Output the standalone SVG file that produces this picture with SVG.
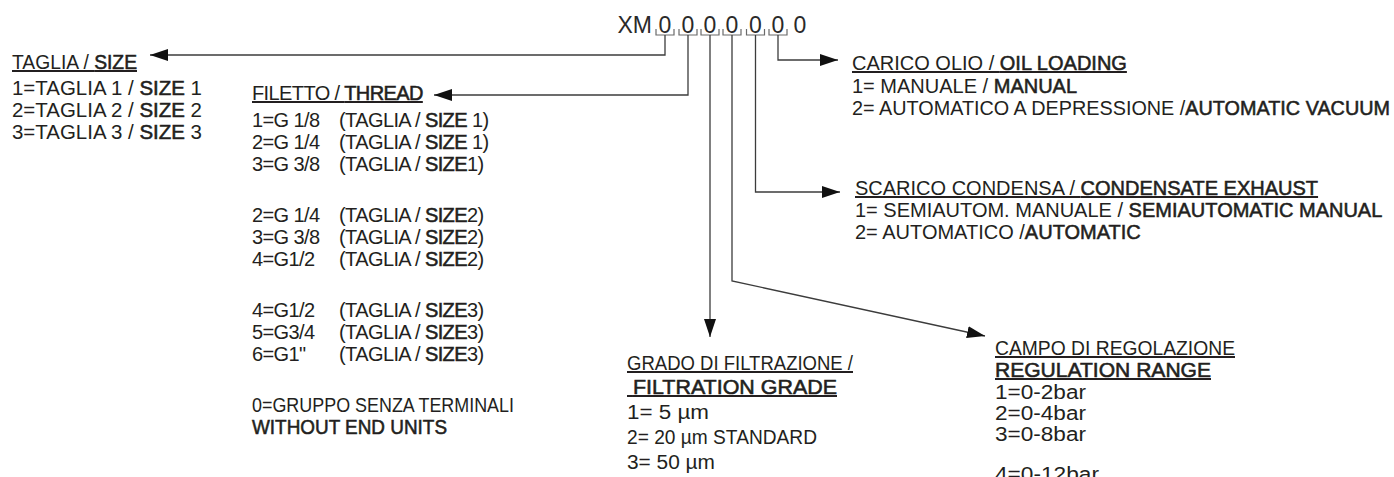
<svg xmlns="http://www.w3.org/2000/svg" width="1394" height="477" viewBox="0 0 1394 477">
<defs>
<style>
text{font-family:"Liberation Sans",Arial,sans-serif;font-size:20px;fill:#231f20}
.b{stroke:#231f20;stroke-width:0.55}
.u{text-decoration:underline}
.f{letter-spacing:-0.6px}
.code{font-size:23px;fill:#2a2a2a}
.ln{fill:none;stroke:#3c3c3c;stroke-width:1.3}
.br{fill:none;stroke:#6a6a6a;stroke-width:1.2}
</style>
<marker id="ah" viewBox="0 0 18 12" refX="18" refY="6" markerWidth="18" markerHeight="12" markerUnits="userSpaceOnUse" orient="auto">
<path d="M0,0 L18,6 L0,12 z" fill="#111"/>
</marker>
</defs>
<rect width="1394" height="477" fill="#fff"/>
<g id="code">
<text class="code" x="652" y="33" text-anchor="end">XM</text>
<text class="code" x="665" y="33" text-anchor="middle">0</text>
<text class="code" x="688" y="33" text-anchor="middle">0</text>
<text class="code" x="710" y="33" text-anchor="middle">0</text>
<text class="code" x="732" y="33" text-anchor="middle">0</text>
<text class="code" x="755.5" y="33" text-anchor="middle">0</text>
<text class="code" x="778" y="33" text-anchor="middle">0</text>
<text class="code" x="800" y="33" text-anchor="middle">0</text>
<path class="br" d="M656,29 V35 H674 V29 M679,29 V35 H697 V29 M701,29 V35 H719 V29 M723,29 V35 H741 V29 M746.5,29 V35 H764.5 V29 M769,29 V35 H787 V29"/>
</g>
<g id="connectors">
<path class="ln" d="M665,35 V55 H150" marker-end="url(#ah)"/>
<path class="ln" d="M688,35 V95 H434" marker-end="url(#ah)"/>
<path class="ln" d="M710,35 V337" marker-end="url(#ah)"/>
<path class="ln" d="M732,35 V281 L985,336" marker-end="url(#ah)"/>
<path class="ln" d="M755.5,35 V192 H840" marker-end="url(#ah)"/>
<path class="ln" d="M778,35 V60 H838" marker-end="url(#ah)"/>
</g>
<g id="taglia">
<text class="u" x="12" y="69" textLength="125" lengthAdjust="spacingAndGlyphs">TAGLIA / <tspan class="b">SIZE</tspan></text>
<text x="12" y="95" textLength="190" lengthAdjust="spacingAndGlyphs">1=TAGLIA 1 / <tspan class="b">SIZE</tspan> 1</text>
<text x="12" y="117" textLength="190" lengthAdjust="spacingAndGlyphs">2=TAGLIA 2 / <tspan class="b">SIZE</tspan> 2</text>
<text x="12" y="139" textLength="190" lengthAdjust="spacingAndGlyphs">3=TAGLIA 3 / <tspan class="b">SIZE</tspan> 3</text>
</g>
<g id="filetto">
<text class="u f" x="252" y="100">FILETTO / <tspan class="b">THREAD</tspan></text>
<text class="f" x="252" y="127">1=G 1/8 <tspan x="339">(TAGLIA / </tspan><tspan class="b">SIZE</tspan> 1)</text>
<text class="f" x="252" y="149">2=G 1/4 <tspan x="339">(TAGLIA / </tspan><tspan class="b">SIZE</tspan> 1)</text>
<text class="f" x="252" y="171">3=G 3/8 <tspan x="339">(TAGLIA / </tspan><tspan class="b">SIZE</tspan>1)</text>
<text class="f" x="252" y="222">2=G 1/4 <tspan x="339">(TAGLIA / </tspan><tspan class="b">SIZE</tspan>2)</text>
<text class="f" x="252" y="244">3=G 3/8 <tspan x="339">(TAGLIA / </tspan><tspan class="b">SIZE</tspan>2)</text>
<text class="f" x="252" y="266">4=G1/2 <tspan x="339">(TAGLIA / </tspan><tspan class="b">SIZE</tspan>2)</text>
<text class="f" x="252" y="317">4=G1/2 <tspan x="339">(TAGLIA / </tspan><tspan class="b">SIZE</tspan>3)</text>
<text class="f" x="252" y="339">5=G3/4 <tspan x="339">(TAGLIA / </tspan><tspan class="b">SIZE</tspan>3)</text>
<text class="f" x="252" y="361">6=G1&quot; <tspan x="339">(TAGLIA / </tspan><tspan class="b">SIZE</tspan>3)</text>
<text x="252" y="412" textLength="262" lengthAdjust="spacingAndGlyphs">0=GRUPPO SENZA TERMINALI</text>
<text class="b" x="252" y="434" textLength="195" lengthAdjust="spacingAndGlyphs">WITHOUT END UNITS</text>
</g>
<g id="carico">
<text class="u" x="852" y="70">CARICO OLIO / <tspan class="b">OIL LOADING</tspan></text>
<text x="852" y="93">1= MANUALE / <tspan class="b">MANUAL</tspan></text>
<text x="852" y="115" textLength="538" lengthAdjust="spacingAndGlyphs">2= AUTOMATICO A DEPRESSIONE /<tspan class="b">AUTOMATIC VACUUM</tspan></text>
</g>
<g id="scarico">
<text class="u" x="855" y="195">SCARICO CONDENSA / <tspan class="b">CONDENSATE EXHAUST</tspan></text>
<text x="855" y="217">1= SEMIAUTOM. MANUALE / <tspan class="b">SEMIAUTOMATIC MANUAL</tspan></text>
<text x="855" y="239">2= AUTOMATICO /<tspan class="b">AUTOMATIC</tspan></text>
</g>
<g id="grado">
<text class="u" x="627" y="370" textLength="226" lengthAdjust="spacingAndGlyphs">GRADO DI FILTRAZIONE /</text>
<text class="u" x="627" y="394" textLength="210" lengthAdjust="spacingAndGlyphs">&#160;<tspan class="b">FILTRATION GRADE</tspan></text>
<text x="627" y="419" textLength="82" lengthAdjust="spacingAndGlyphs">1= 5 µm</text>
<text x="627" y="444" textLength="190" lengthAdjust="spacingAndGlyphs">2= 20 µm STANDARD</text>
<text x="627" y="469" textLength="88" lengthAdjust="spacingAndGlyphs">3= 50 µm</text>
</g>
<g id="campo">
<text class="u" x="995" y="355" textLength="240" lengthAdjust="spacingAndGlyphs">CAMPO DI REGOLAZIONE</text>
<text class="u" x="995" y="377" textLength="216" lengthAdjust="spacingAndGlyphs"><tspan class="b">REGULATION RANGE</tspan></text>
<text x="995" y="399" textLength="91" lengthAdjust="spacingAndGlyphs">1=0-2bar</text>
<text x="995" y="420" textLength="91" lengthAdjust="spacingAndGlyphs">2=0-4bar</text>
<text x="995" y="441" textLength="91" lengthAdjust="spacingAndGlyphs">3=0-8bar</text>
<text x="995" y="481" textLength="104" lengthAdjust="spacingAndGlyphs">4=0-12bar</text>
</g>
</svg>
